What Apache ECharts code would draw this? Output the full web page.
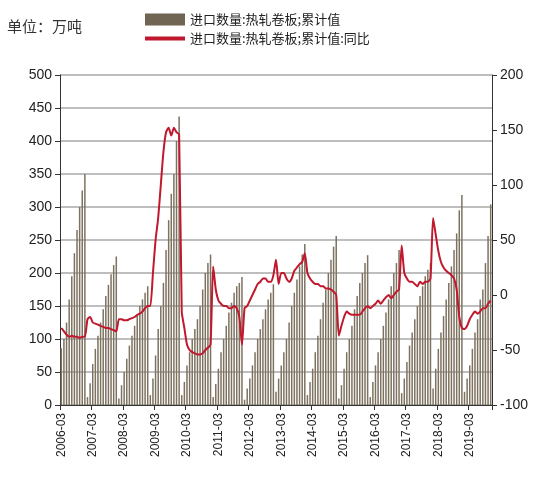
<!DOCTYPE html><html><head><meta charset="utf-8"><script src="https://cdn.jsdelivr.net/npm/echarts@6/dist/echarts.min.js"></script></head><body style="margin:0"><div id="c" style="width:550px;height:500px"></div><script>
const startYear=2006, startMonth=3;
const barValues=[86,100,125,160,195,230,265,300,325,350,
12,33,62,85,105,125,145,165,182,198,212,225,
10,30,50,70,90,105,120,135,150,160,170,180,
15,40,75,115,150,185,235,280,320,350,400,437,
15,35,60,80,100,115,130,150,175,200,215,228,
12,32,55,80,100,120,140,155,170,180,185,194,
8,25,40,60,80,100,115,130,145,160,170,183,
20,40,60,80,100,125,150,170,190,210,228,244,
15,35,55,80,105,130,155,175,200,220,240,256,
10,30,55,80,100,120,145,165,185,200,215,227,
12,35,60,80,100,120,140,160,180,200,215,235,
18,40,65,90,110,130,150,165,180,195,205,215,
25,55,85,110,135,160,185,210,235,260,295,318,
20,40,60,85,110,130,160,175,215,256,304];
const yoyValues=[-30,-33,-36,-38,-37,-38,-38,-39,-38,-38,
-22,-20,-25,-26,-27,-28,-29,-30,-30,-31,-32,-33,
-22,-22,-23,-23,-22,-21,-20,-18,-17,-15,-12,-10,
-10,20,50,70,100,130,148,152,145,152,148,146,
-15,-30,-45,-50,-52,-53,-54,-54,-53,-50,-48,-45,
26,5,-5,-8,-10,-10,-12,-12,-10,-12,-20,-45,
-12,-10,-5,0,5,10,12,15,15,12,12,18,
32,10,20,20,15,12,15,22,25,28,30,38,
20,15,12,10,10,8,8,6,6,5,3,0,
-37,-28,-20,-15,-17,-18,-18,-18,-18,-15,-12,-10,
-12,-10,-8,-5,-8,-5,-2,0,-3,0,3,5,
45,20,15,12,12,10,8,12,10,12,12,15,
70,55,40,30,25,22,20,18,15,5,-20,-30,
-31,-28,-22,-18,-15,-17,-15,-12,-12,-8,-5];
const categories=barValues.map((_,i)=>{const m=startMonth-1+i;return (startYear+Math.floor(m/12))+'-'+String(m%12+1).padStart(2,'0');});
const f='"Noto Sans CJK SC", sans-serif';
echarts.init(document.getElementById('c')).setOption({
 animation:false,
 title:{text:'单位：万吨',left:2,top:14,textStyle:{fontSize:15,fontWeight:'normal',color:'#333',fontFamily:f}},
 legend:{left:140,top:8,orient:'vertical',itemGap:6,textStyle:{fontSize:13,fontFamily:f,color:'#222'},
  data:[{name:'进口数量:热轧卷板;累计值',icon:'rect',itemStyle:{color:'#6f6552'}},{name:'进口数量:热轧卷板;累计值:同比',icon:'path://M0,0H10V1H0Z',itemStyle:{color:'#c0182c'}}],itemWidth:40,itemHeight:12},
 grid:{left:60,right:58,top:75,bottom:95},
 xAxis:{type:'category',data:categories,boundaryGap:true,axisTick:{show:true,interval:11},axisLine:{lineStyle:{color:'#333'}},
  axisLabel:{interval:11,rotate:90,fontSize:12,color:'#222',fontFamily:'Liberation Sans'},splitLine:{show:false}},
 yAxis:[{type:'value',min:0,max:500,interval:50,axisLine:{show:true,lineStyle:{color:'#333'}},axisTick:{show:true},axisLabel:{fontSize:14,color:'#222'},splitLine:{show:true,lineStyle:{color:'#a8a8a8',width:1.5}}},
  {type:'value',min:-100,max:200,interval:50,axisLine:{show:true,lineStyle:{color:'#333'}},axisTick:{show:true},axisLabel:{fontSize:14,color:'#222'},splitLine:{show:false}}],
 series:[{name:'进口数量:热轧卷板;累计值',type:'bar',data:barValues,barWidth:1.5,itemStyle:{color:'#7d7260'}},
  {name:'进口数量:热轧卷板;累计值:同比',type:'line',yAxisIndex:1,data:yoyValues,symbol:'none',smooth:0.2,lineStyle:{color:'#c0182c',width:2}}]
});
</script></body></html>
